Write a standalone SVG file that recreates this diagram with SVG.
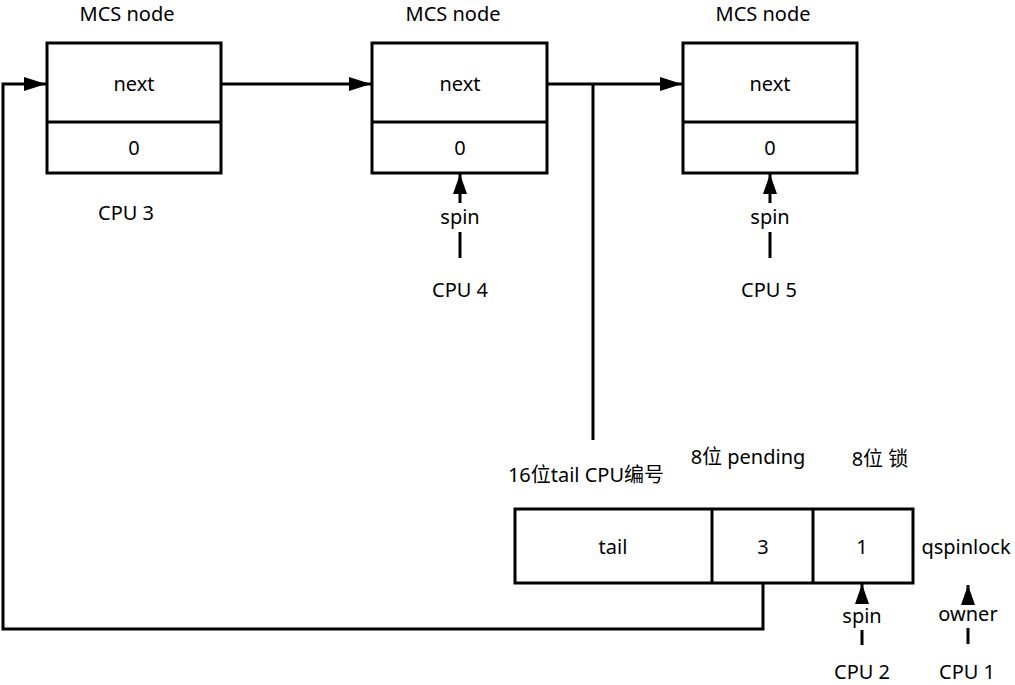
<svg xmlns="http://www.w3.org/2000/svg" width="1015" height="685" viewBox="0 0 1015 685">
<style>
text{font-family:"Noto Sans","Noto Sans CJK SC",sans-serif;font-size:20px;fill:#000;text-anchor:middle}
.cjk{font-family:"Noto Sans","Noto Sans CJK SC",sans-serif}
.box{fill:#fff;stroke:#000;stroke-width:3}
.ln{fill:none;stroke:#000;stroke-width:3}
</style>
<defs>
<marker id="ah" markerUnits="userSpaceOnUse" markerWidth="22" markerHeight="14" refX="22" refY="7" orient="auto">
<path d="M0,0 L22,7 L0,14 Z" fill="#000"/>
</marker>
<marker id="sh" markerUnits="userSpaceOnUse" markerWidth="20" markerHeight="14" refX="20" refY="7" orient="auto">
<path d="M0,0 L20,7 L0,14 Z" fill="#000"/>
</marker>
</defs>
<g id="connectors">
<polyline class="ln" points="763,583 763,629 3,629 3,84 46,84" marker-end="url(#ah)"/>
<line class="ln" x1="221" y1="84" x2="371" y2="84" marker-end="url(#ah)"/>
<line class="ln" x1="547" y1="84" x2="682" y2="84" marker-end="url(#ah)"/>
<line class="ln" x1="593" y1="84" x2="593" y2="440"/>
<line class="ln" x1="460" y1="203" x2="460" y2="174" marker-end="url(#sh)"/>
<line class="ln" x1="460" y1="232" x2="460" y2="258"/>
<line class="ln" x1="770" y1="203" x2="770" y2="174" marker-end="url(#sh)"/>
<line class="ln" x1="770" y1="232" x2="770" y2="258"/>
<line class="ln" x1="862" y1="602" x2="862" y2="584" marker-end="url(#sh)"/>
<line class="ln" x1="862" y1="630" x2="862" y2="645"/>
<line class="ln" x1="968" y1="602" x2="968" y2="585" marker-end="url(#sh)"/>
<line class="ln" x1="968" y1="628" x2="968" y2="644"/>
</g>
<g id="node-cpu3">
<rect class="box" x="47" y="43" width="174" height="130"/>
<line class="ln" x1="47" y1="122" x2="221" y2="122"/>
<text x="127" y="21">MCS node</text>
<text x="134" y="91">next</text>
<text x="134" y="155">0</text>
<text x="126" y="220">CPU 3</text>
</g>
<g id="node-cpu4">
<rect class="box" x="372" y="43" width="175" height="130"/>
<line class="ln" x1="372" y1="122" x2="547" y2="122"/>
<text x="453" y="21">MCS node</text>
<text x="460" y="91">next</text>
<text x="460" y="155">0</text>
<text x="460" y="224">spin</text>
<text x="460" y="297">CPU 4</text>
</g>
<g id="node-cpu5">
<rect class="box" x="683" y="43" width="174" height="130"/>
<line class="ln" x1="683" y1="122" x2="857" y2="122"/>
<text x="763" y="21">MCS node</text>
<text x="770" y="91">next</text>
<text x="770" y="155">0</text>
<text x="770" y="224">spin</text>
<text x="769" y="297">CPU 5</text>
</g>
<g id="qspinlock">
<rect class="box" x="515" y="509" width="398" height="74"/>
<line class="ln" x1="712" y1="509" x2="712" y2="583"/>
<line class="ln" x1="813" y1="509" x2="813" y2="583"/>
<text x="613" y="554">tail</text>
<text x="763" y="554">3</text>
<text x="862" y="554">1</text>
<text x="966" y="554">qspinlock</text>
<text class="cjk" x="586" y="482">16位tail CPU编号</text>
<text class="cjk" x="748" y="464">8位 pending</text>
<text class="cjk" x="880" y="466">8位 锁</text>
<text x="862" y="623">spin</text>
<text x="968" y="621">owner</text>
<text x="862" y="679">CPU 2</text>
<text x="967" y="679">CPU 1</text>
</g>
</svg>
